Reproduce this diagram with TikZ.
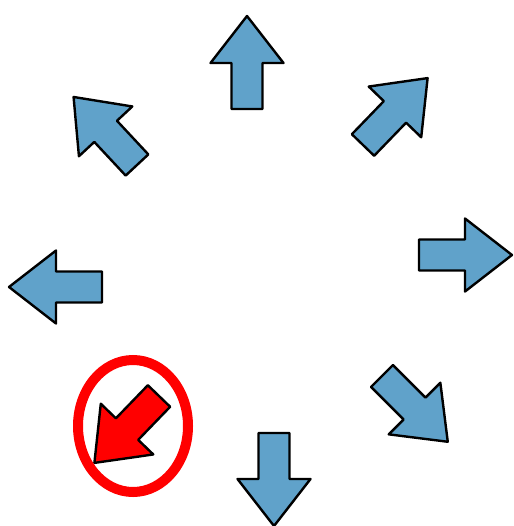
\documentclass[tikz,border=0pt]{standalone}
\definecolor{arrblue}{RGB}{96,162,202}
\definecolor{arrred}{RGB}{255,0,0}

\tikzset{
  dirarrow/.pic={
    \draw[pic actions] (0,-15.5) -- (46,-15.5) -- (46,-36.5) -- (93,0)
      -- (46,36.5) -- (46,15.5) -- (0,15.5) -- cycle;
  },
  blueone/.style={fill=arrblue,draw=black,line width=2.4pt,line join=round},
  redone/.style={fill=arrred,draw=black,line width=2.4pt,line join=round}
}

\begin{document}
\begin{tikzpicture}[x=1pt,y=-1pt]
  \useasboundingbox (0,0) rectangle (513,526);
  % tails of the eight arrows
  \coordinate (N) at (247,109);
  \coordinate (NE) at (363,145);
  \coordinate (E) at (419,255);
  \coordinate (SE) at (382,376);
  \coordinate (S) at (274,433);
  \coordinate (SW) at (159,396);
  \coordinate (W) at (102,287);
  \coordinate (NW) at (137,165);
  \pic[blueone,rotate=90] at (N) {dirarrow};
  \pic[blueone,rotate=46] at (NE) {dirarrow};
  \pic[blueone,rotate=0] at (E) {dirarrow};
  \pic[blueone,rotate=-45] at (SE) {dirarrow};
  \pic[blueone,rotate=-90] at (S) {dirarrow};
  \pic[redone,rotate=-134] at (SW) {dirarrow};
  \pic[blueone,rotate=180] at (W) {dirarrow};
  \pic[blueone,rotate=133] at (NW) {dirarrow};
  % mark round the chosen one
  \draw[arrred,line width=10pt] (133,426) ellipse [x radius=55,y radius=66];
\end{tikzpicture}
\end{document}
